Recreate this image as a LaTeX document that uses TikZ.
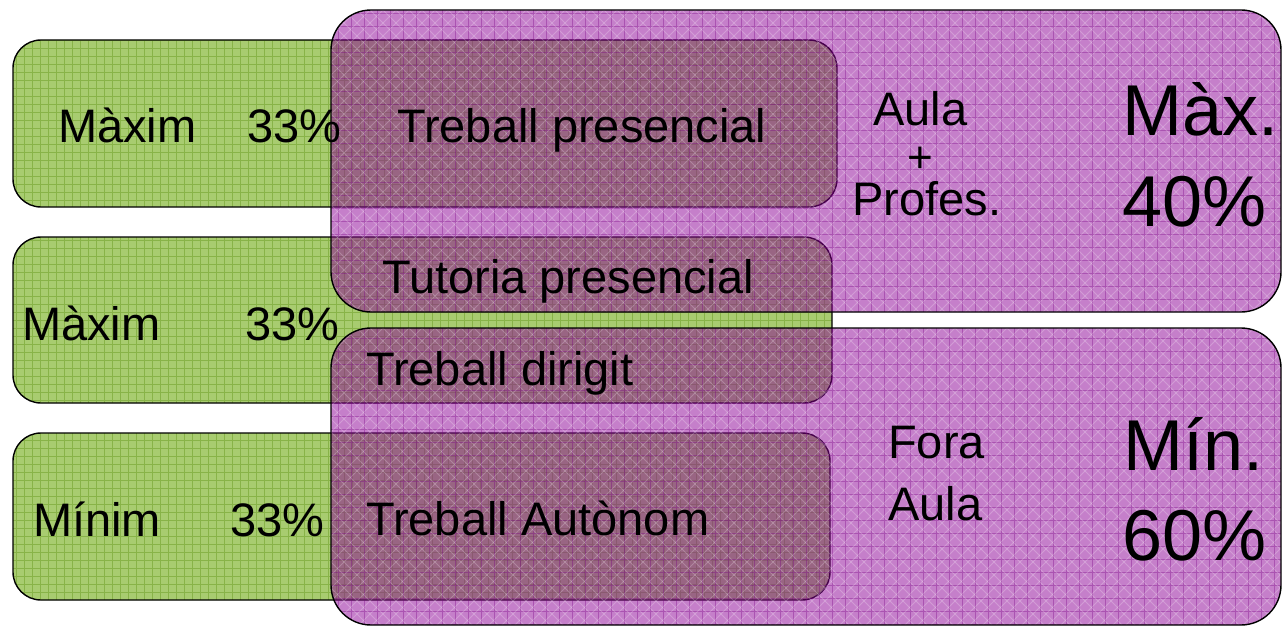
\documentclass[tikz,border=0pt]{standalone}
\usepackage{fontspec}
\setmainfont{Liberation Sans}
\definecolor{greenfill}{RGB}{168,204,112}
\definecolor{greengrid}{RGB}{110,160,40}
\definecolor{purplefill}{RGB}{140,0,150}
\definecolor{purplegrid}{RGB}{120,0,130}
\begin{document}
\begin{tikzpicture}[x=1pt,y=-1pt,
  greenbox/.style={draw=black, line width=1.4pt, fill=greenfill, rounded corners=28pt},
  purplebox/.style={draw=black, line width=1.4pt, fill=purplefill, fill opacity=0.5, rounded corners=40pt},
  ggrid/.style={draw=greengrid, line width=0.5pt, opacity=0.55},
  pgrid/.style={draw=purplegrid, line width=0.6pt, opacity=0.35},
  pdiag/.style={draw=white, line width=0.8pt, opacity=0.22},
  txt/.style={anchor=base west, inner sep=0pt, font=\fontsize{47}{56}\selectfont},
  bigtxt/.style={anchor=base west, inner sep=0pt, font=\fontsize{72}{86}\selectfont}]
\useasboundingbox (0,0) rectangle (1283,626);
% green boxes
\foreach \ya/\yb/\xb in {40/207/837, 237/403/832, 433/600/830}{
  \fill[greenbox, draw=none] (13,\ya) rectangle (\xb,\yb);
  \begin{scope}
    \clip[rounded corners=28pt] (13,\ya) rectangle (\xb,\yb);
    \draw[ggrid] (13,\ya) grid[step=8pt] (\xb,\yb);
  \end{scope}
  \draw[greenbox, fill=none] (13,\ya) rectangle (\xb,\yb);
}
% purple boxes
\foreach \ya/\yb in {10/312, 328/625}{
  \fill[purplebox, draw=none] (331,\ya) rectangle (1281,\yb);
  \begin{scope}
    \clip[rounded corners=40pt] (331,\ya) rectangle (1281,\yb);
    \draw[pgrid] (331,\ya) grid[step=13pt] (1281,\yb);
    \foreach \k in {-30,...,100}{
      \draw[pdiag] ({331+13*\k},\ya) -- ++(320,320);
      \draw[pdiag] ({331+13*\k},\ya) -- ++(-320,320);
    }
  \end{scope}
  \draw[purplebox, fill=none] (331,\ya) rectangle (1281,\yb);
}
% texts
\node[txt] (m1) at (58,142) {Màxim};
\node[txt] (p1) at (247,142) {33\%};
\node[txt] (tp) at (397,142) {Treball presencial};
\node[txt] (m2) at (22,340) {Màxim};
\node[txt] (p2) at (245,340) {33\%};
\node[txt] (tut) at (382,293) {Tutoria presencial};
\node[txt] (td) at (366,385) {Treball dirigit};
\node[txt] (m3) at (33,536) {Mínim};
\node[txt] (p3) at (230,536) {33\%};
\node[txt] (ta) at (366,535) {Treball Autònom};
\node[txt] (aula1) at (873,125) {Aula};
\node[inner sep=0pt, font=\fontsize{44}{50}\selectfont] (plus) at (920,160) {+};
\node[txt] (prof) at (852,215) {Profes.};
\node[txt] (fora) at (888,458) {Fora};
\node[txt] (aula2) at (888,520) {Aula};
\node[bigtxt] (max) at (1122,135) {Màx.};
\node[bigtxt] (p40) at (1122,226) {40\%};
\node[bigtxt] (min) at (1123,470) {Mín.};
\node[bigtxt] (p60) at (1122,560) {60\%};
\end{tikzpicture}
\end{document}
